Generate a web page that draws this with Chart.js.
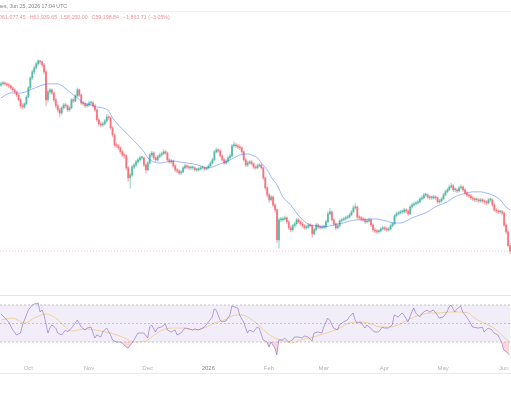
<!DOCTYPE html>
<html>
<head>
<meta charset="utf-8">
<script src="https://cdn.jsdelivr.net/npm/chart.js@4.4.1/dist/chart.umd.min.js"></script>
<style>
  html, body { margin: 0; padding: 0; background: #fff; }
  body { width: 511px; height: 400px; position: relative; overflow: hidden; font-family: "Liberation Sans", Arial, sans-serif; }
  canvas { position: absolute; left: 0; }
  #price { top: 0; }
  #rsi { top: 296px; }
  .rule { position: absolute; left: 0; width: 511px; height: 1px; }
  #hdr { position: absolute; left: -2px; top: 3px; font-size: 5.3px; line-height: 6px; color: #808080; white-space: nowrap; }
  #ohlc { position: absolute; left: -2px; top: 14px; font-size: 5.3px; line-height: 6px; color: #f29297; white-space: nowrap; }
  #ohlc span { margin-right: 4px; }
</style>
</head>
<body>
<canvas id="price" width="511" height="295"></canvas>
<canvas id="rsi" width="511" height="78"></canvas>
<div class="rule" style="top:11px;background:#f0f0f0"></div>
<div class="rule" style="top:295px;background:#e6e6e6"></div>
<div class="rule" style="top:373px;background:#e9e9e9"></div>
<div id="hdr">ues, Jun 25, 2026 17:04 UTC</div>
<div id="ohlc"><span>O61,077.45</span><span>H61,939.65</span><span>L58,150.00</span><span>C59,198.84</span><span>−1,862.71 (−3.05%)</span></div>
<script>
// daily candles, 17 Sep 2025 .. 4 Jun 2026, prices in thousands USD
// open of each day = previous close (24/7 market), first one given here
const firstOpen = 117.2;
const closes = [
  117.7, 118.0, 117.7, 117.3, 117.0, 116.3, 115.6, 114.9, 113.8, 112.1,
  110.0, 109.6, 110.7, 113.1, 116.3, 119.8, 121.9, 123.3, 124.7, 125.7,
  125.4, 124.3, 121.9, 112.1, 114.9, 115.6, 114.5, 112.1, 110.0, 108.6,
  107.5, 109.3, 110.3, 110.0, 108.6, 109.3, 112.1, 111.7, 113.5, 115.6,
  113.8, 111.0, 110.7, 110.0, 110.3, 111.0, 111.0, 110.0, 108.6, 105.1,
  103.7, 103.3, 103.7, 104.7, 106.1, 105.8, 102.3, 99.8, 96.3, 96.0,
  95.3, 93.9, 92.8, 92.5, 88.3, 84.8, 85.8, 88.6, 89.3, 90.4,
  91.1, 91.8, 91.8, 89.3, 87.6, 90.0, 92.8, 93.5, 91.8, 91.1,
  92.1, 92.8, 93.2, 93.9, 93.5, 91.1, 90.4, 90.7, 89.0, 87.6,
  87.2, 86.5, 86.9, 88.3, 89.0, 88.6, 88.3, 88.3, 88.3, 87.6,
  87.6, 87.9, 88.3, 88.3, 87.9, 88.3, 89.0, 90.0, 91.1, 93.9,
  94.6, 94.2, 92.5, 91.1, 90.0, 90.7, 91.8, 92.5, 96.0, 96.3,
  96.0, 95.6, 95.3, 93.9, 91.1, 89.3, 90.0, 90.4, 89.7, 88.6,
  88.3, 89.0, 89.3, 88.3, 84.8, 81.3, 78.8, 77.1, 78.1, 75.3,
  73.6, 63.1, 70.1, 70.1, 70.4, 70.8, 69.4, 67.3, 66.6, 68.0,
  68.7, 70.1, 69.4, 68.7, 68.0, 67.3, 67.6, 68.3, 68.0, 65.2,
  66.6, 68.3, 67.6, 67.3, 67.6, 67.6, 69.4, 72.2, 72.9, 70.1,
  68.7, 67.3, 68.0, 69.7, 70.1, 70.4, 70.8, 71.1, 71.8, 72.9,
  74.3, 74.6, 71.1, 70.8, 70.4, 70.1, 69.4, 69.7, 70.1, 68.3,
  66.6, 66.2, 65.9, 66.2, 66.9, 67.3, 66.9, 66.6, 66.9, 68.0,
  68.7, 71.5, 72.2, 72.5, 72.9, 72.9, 73.6, 73.2, 72.2, 74.6,
  75.3, 75.7, 76.0, 76.4, 77.4, 77.8, 78.8, 78.8, 78.1, 77.8,
  77.8, 78.1, 77.8, 76.4, 76.7, 77.4, 78.8, 79.9, 80.6, 81.6,
  82.0, 80.6, 80.6, 80.2, 81.3, 81.6, 80.6, 79.5, 78.8, 78.5,
  77.8, 77.4, 77.1, 77.1, 76.7, 77.1, 76.7, 76.4, 76.0, 77.1,
  77.1, 75.3, 73.6, 73.2, 72.9, 72.9, 72.5, 68.3, 65.9, 61.1,
  59.2
];
const highs = [
  118.3, 118.6, 118.4, 118.1, 117.8, 117.4, 116.7, 116.0, 115.3, 114.2,
  112.6, 110.8, 111.2, 113.6, 116.8, 120.3, 122.6, 123.9, 125.3, 126.2,
  126.0, 125.8, 124.8, 122.5, 115.4, 116.2, 116.0, 114.9, 112.6, 110.5,
  109.2, 109.8, 110.9, 110.9, 110.4, 109.9, 112.6, 112.8, 114.0, 116.3,
  116.0, 114.2, 111.6, 111.3, 110.9, 111.6, 111.7, 111.5, 110.5, 109.0,
  105.6, 104.4, 104.3, 105.2, 107.0, 106.6, 106.2, 102.8, 100.3, 97.1,
  96.6, 95.8, 94.4, 93.4, 92.9, 88.8, 86.5, 89.2, 89.9, 91.0,
  91.7, 92.4, 92.5, 92.2, 89.8, 90.6, 93.3, 94.1, 94.0, 92.3,
  92.7, 93.4, 93.9, 94.7, 94.5, 93.9, 91.6, 91.3, 91.1, 89.4,
  88.1, 87.7, 87.5, 88.8, 89.6, 89.4, 89.1, 88.9, 88.9, 88.7,
  88.2, 88.5, 88.8, 88.9, 88.7, 88.8, 89.5, 90.6, 91.7, 94.4,
  95.2, 95.0, 94.6, 92.9, 91.6, 91.2, 92.3, 93.0, 96.5, 97.4,
  97.0, 96.5, 96.1, 95.7, 94.3, 91.6, 90.6, 91.0, 90.9, 90.1,
  89.1, 89.6, 89.9, 89.7, 88.7, 85.2, 81.7, 79.3, 78.7, 78.5,
  75.8, 74.0, 70.8, 71.0, 71.2, 71.5, 71.2, 69.9, 68.0, 68.6,
  69.3, 70.7, 70.6, 69.9, 69.2, 68.5, 68.2, 68.9, 68.8, 68.4,
  67.1, 68.9, 68.8, 68.1, 68.2, 68.3, 70.0, 73.0, 74.1, 73.3,
  70.5, 69.1, 68.6, 70.2, 70.7, 71.0, 71.4, 71.7, 72.4, 73.5,
  75.1, 75.8, 75.0, 71.6, 71.3, 71.0, 70.6, 70.3, 70.7, 70.5,
  68.7, 67.1, 66.8, 66.8, 67.5, 67.9, 67.8, 67.4, 67.5, 68.6,
  69.3, 72.1, 72.9, 73.1, 73.5, 73.6, 74.2, 74.0, 73.7, 75.2,
  75.9, 76.3, 76.6, 77.0, 78.0, 78.5, 79.4, 79.5, 79.2, 78.6,
  78.5, 78.7, 78.6, 78.2, 77.3, 78.0, 79.4, 80.5, 81.2, 82.3,
  82.9, 82.5, 81.3, 81.0, 81.9, 82.4, 82.0, 81.0, 80.0, 79.3,
  79.0, 78.3, 77.9, 77.8, 77.6, 77.7, 77.6, 77.2, 76.9, 77.7,
  77.8, 77.5, 75.8, 74.1, 73.7, 73.5, 73.4, 72.9, 68.8, 66.4,
  61.9
];
const lows = [
  116.8, 117.3, 117.2, 116.9, 116.4, 115.8, 115.0, 114.3, 113.2, 111.6,
  109.2, 108.9, 109.1, 110.3, 112.8, 115.9, 119.2, 121.3, 122.8, 124.1,
  124.6, 123.6, 121.2, 110.0, 111.3, 114.2, 113.9, 111.5, 109.3, 107.8,
  106.2, 107.0, 108.8, 109.4, 108.0, 108.1, 108.9, 111.1, 111.3, 113.1,
  113.3, 110.4, 110.1, 109.4, 109.5, 109.8, 110.4, 109.4, 108.0, 104.5,
  102.9, 102.6, 102.8, 103.2, 104.3, 105.2, 101.7, 99.1, 95.6, 95.3,
  94.6, 93.2, 92.1, 91.6, 87.6, 83.6, 81.2, 85.3, 88.0, 88.8,
  89.9, 90.6, 91.1, 88.7, 86.4, 87.2, 89.6, 92.3, 91.2, 90.5,
  90.6, 91.7, 92.3, 92.8, 92.9, 90.5, 89.8, 89.9, 88.4, 87.0,
  86.6, 85.9, 86.0, 86.5, 87.8, 88.0, 87.7, 87.6, 87.8, 87.1,
  87.0, 87.2, 87.5, 87.8, 87.4, 87.6, 88.0, 88.7, 89.6, 90.8,
  93.4, 93.6, 92.0, 90.6, 89.5, 89.6, 90.2, 91.3, 92.1, 95.6,
  95.4, 95.0, 94.7, 93.3, 90.6, 88.7, 88.8, 89.7, 89.2, 88.0,
  87.7, 87.9, 88.7, 87.8, 84.2, 80.6, 78.0, 76.3, 76.6, 74.6,
  72.8, 62.0, 60.2, 69.4, 69.6, 70.0, 68.8, 66.7, 65.9, 66.1,
  67.5, 68.3, 68.9, 68.1, 67.4, 66.7, 66.8, 67.1, 67.5, 64.0,
  64.8, 66.2, 67.1, 66.8, 66.9, 67.0, 67.2, 69.0, 71.7, 69.6,
  68.1, 66.7, 66.9, 67.6, 69.3, 69.7, 70.0, 70.4, 70.7, 71.4,
  72.5, 73.8, 70.5, 70.2, 69.8, 69.5, 68.8, 68.9, 69.2, 67.7,
  66.0, 65.6, 65.3, 65.4, 65.8, 66.5, 66.3, 66.0, 66.2, 66.5,
  67.6, 68.3, 71.0, 71.8, 72.1, 72.3, 72.4, 72.6, 71.6, 71.9,
  74.2, 74.9, 75.2, 75.6, 76.0, 77.0, 77.4, 78.1, 77.5, 77.2,
  77.2, 77.4, 77.1, 75.8, 75.9, 76.2, 77.0, 78.4, 79.5, 80.2,
  81.2, 80.0, 79.9, 79.6, 79.8, 80.9, 80.0, 78.9, 78.2, 77.9,
  77.2, 76.8, 76.5, 76.4, 76.1, 76.2, 76.0, 75.6, 75.4, 75.6,
  76.5, 74.7, 73.0, 72.6, 72.2, 72.3, 71.8, 67.6, 65.2, 60.6,
  58.2
];

// moving average of price, read at these day indexes
const maDays = [0, 5, 10, 15, 20, 24, 29, 32, 35, 39, 42, 46, 49, 52, 55, 57, 61, 64, 66, 70,
  73, 75, 78, 81, 85, 88, 91, 95, 98, 102, 105, 108, 112, 115, 119, 122, 126, 129, 131, 133,
  136, 138, 141, 144, 148, 151, 154, 158, 161, 165, 168, 172, 175, 178, 182, 185, 188, 192, 194, 197,
  200, 204, 207, 210, 214, 218, 221, 224, 228, 231, 234, 238, 241, 245, 248, 251, 255, 258, 260];
const maValues = [112.8, 114.5, 114.5, 115.6, 117.0, 117.7, 117.7, 116.6, 114.9, 112.8, 111.0, 110.3, 109.6, 109.3, 108.2, 105.8, 102.6, 100.5, 99.1, 96.3,
  93.9, 91.8, 90.4, 90.0, 90.4, 90.7, 90.4, 90.0, 89.7, 89.0, 88.3, 88.6, 89.7, 90.4, 91.8, 92.8, 93.2, 92.5, 91.8, 90.0,
  87.6, 85.1, 82.3, 78.1, 75.3, 72.5, 70.1, 68.3, 68.0, 67.6, 68.0, 68.7, 69.0, 69.7, 70.1, 70.1, 70.4, 70.4, 70.1, 69.7,
  69.0, 69.0, 69.7, 70.8, 71.8, 72.9, 74.3, 75.3, 76.4, 77.8, 78.8, 79.5, 79.9, 79.9, 79.5, 78.8, 77.1, 74.6, 73.6];

// RSI and its moving average
const rsiDays = [0, 2, 4, 6, 8, 10, 11, 13, 14, 16, 17, 19, 20, 21, 22, 24, 25, 26, 28, 29,
  31, 33, 34, 36, 38, 39, 41, 43, 44, 46, 48, 49, 51, 52, 54, 56, 57, 59, 61, 62,
  64, 65, 67, 68, 70, 71, 73, 75, 76, 77, 79, 80, 82, 84, 85, 87, 89, 90, 92, 94,
  96, 98, 99, 101, 103, 104, 106, 108, 109, 110, 112, 113, 115, 117, 118, 121, 122, 124, 126, 127,
  129, 131, 132, 134, 136, 137, 138, 140, 141, 142, 144, 145, 147, 149, 150, 152, 154, 155, 157, 159,
  160, 162, 164, 165, 167, 168, 170, 172, 173, 175, 177, 178, 180, 181, 182, 184, 186, 187, 190, 191,
  193, 195, 196, 198, 200, 201, 203, 205, 206, 208, 210, 211, 212, 214, 216, 218, 219, 221, 223, 224,
  226, 228, 229, 230, 232, 233, 235, 236, 238, 240, 241, 244, 246, 247, 249, 251, 252, 254, 256, 257,
  259, 260];
const rsiValues = [60.3, 55.9, 51.6, 43.0, 37.6, 39.7, 48.4, 59.2, 64.6, 70.0, 71.1, 72.2, 62.4, 64.6, 59.2, 39.7, 45.1, 48.4, 45.1, 39.7,
  37.6, 43.0, 40.8, 45.1, 50.5, 53.8, 46.2, 43.0, 45.1, 46.2, 34.3, 37.6, 35.4, 40.8, 45.1, 37.6, 32.2, 30.0, 30.0, 28.9,
  24.6, 23.5, 28.9, 32.2, 39.7, 39.7, 39.7, 34.3, 46.2, 48.4, 40.8, 45.1, 46.2, 49.5, 43.0, 40.8, 43.0, 37.6, 39.7, 45.1,
  44.1, 43.0, 44.1, 43.0, 45.1, 46.2, 51.6, 57.0, 65.7, 64.6, 53.8, 51.6, 52.7, 59.2, 68.9, 66.8, 59.2, 51.6, 39.7, 43.0,
  40.8, 46.2, 45.1, 32.2, 30.0, 24.6, 30.0, 23.5, 16.0, 32.2, 32.2, 34.3, 30.0, 32.2, 35.4, 35.4, 34.3, 36.5, 35.4, 31.1,
  39.7, 40.8, 39.7, 46.2, 55.9, 53.8, 45.1, 43.0, 48.4, 51.6, 53.8, 57.0, 61.4, 53.8, 50.5, 51.6, 45.1, 48.4, 43.0, 40.8,
  40.8, 46.2, 45.1, 45.1, 48.4, 59.2, 57.0, 61.4, 59.2, 51.6, 62.4, 66.8, 61.4, 57.0, 62.4, 64.6, 62.4, 64.6, 59.2, 55.9,
  57.0, 62.4, 67.8, 70.0, 62.4, 65.7, 68.9, 62.4, 57.0, 50.5, 46.2, 45.1, 46.2, 40.8, 45.1, 43.0, 39.7, 37.6, 28.9, 21.4,
  18.1, 16.0];
const rsiMaDays = [0, 6, 12, 17, 23, 28, 33, 36, 43, 48, 53, 58, 63, 68, 74, 79, 84, 89, 94, 99,
  104, 109, 114, 120, 123, 127, 131, 136, 140, 145, 149, 153, 158, 163, 168, 173, 178, 183, 188, 194,
  199, 204, 209, 214, 219, 224, 229, 234, 239, 242, 247, 252, 257, 260];
const rsiMaValues = [53.8, 55.9, 50.5, 55.9, 60.3, 55.9, 46.2, 41.9, 44.1, 43.0, 40.8, 38.6, 34.3, 30.0, 31.1, 38.6, 44.1, 45.1, 45.1, 43.0,
  45.1, 50.5, 53.8, 59.2, 59.2, 55.9, 49.5, 39.7, 34.3, 31.1, 28.9, 32.2, 34.3, 37.6, 40.8, 45.1, 50.5, 51.6, 50.5, 46.2,
  46.2, 49.5, 54.9, 59.2, 61.4, 61.4, 62.4, 62.4, 61.4, 55.9, 50.5, 45.1, 35.4, 30.0];
const rsiLevels = [70, 50, 30];

// month ticks (day index of the 1st)
const tickDays = [14, 45, 75, 106, 137, 165, 196, 226, 257];
const tickLabels = ['Oct', 'Nov', 'Dec', '2026', 'Feb', 'Mar', 'Apr', 'May', 'Jun'];

const opens = closes.map((c, i) => (i === 0 ? firstOpen : closes[i - 1]));
const lastClose = closes[closes.length - 1];
const xMin = -0.5;
const xMax = closes.length - 0.5;

const UP = 'rgba(8,153,129,0.52)';
const DOWN = 'rgba(242,54,69,0.55)';
const UP_WICK = 'rgba(8,153,129,0.33)';
const DOWN_WICK = 'rgba(242,54,69,0.33)';
const bodyColors = closes.map((c, i) => (c >= opens[i] ? UP : DOWN));
const wickColors = closes.map((c, i) => (c >= opens[i] ? UP_WICK : DOWN_WICK));

const toPoints = (days, vals) => days.map((d, i) => ({ x: d, y: vals[i] }));
const flat = (v) => [{ x: xMin, y: v }, { x: xMax, y: v }];

new Chart(document.getElementById('price'), {
  type: 'bar',
  data: {
    datasets: [
      {
        type: 'line', data: toPoints(maDays, maValues),
        borderColor: 'rgba(41,98,255,0.45)', borderWidth: 1, pointRadius: 0,
        cubicInterpolationMode: 'monotone', order: 0
      },
      {
        data: closes.map((c, i) => ({ x: i, y: [opens[i], c] })),
        backgroundColor: bodyColors, barThickness: 1.3, minBarLength: 1, grouped: false, order: 1
      },
      {
        data: closes.map((c, i) => ({ x: i, y: [lows[i], highs[i]] })),
        backgroundColor: wickColors, barThickness: 0.8, grouped: false, order: 2
      },
      {
        type: 'line', data: flat(lastClose),
        borderColor: 'rgba(242,54,69,0.3)', borderDash: [1, 2], borderWidth: 1, pointRadius: 0, order: 3
      }
    ]
  },
  options: {
    responsive: false,
    animation: false,
    devicePixelRatio: 1,
    layout: { padding: 0 },
    plugins: { legend: { display: false }, tooltip: { enabled: false } },
    scales: {
      x: { type: 'linear', min: xMin, max: xMax, offset: false, display: false },
      y: { min: 43.8, max: 147.05, display: false }
    }
  }
});

const levelSets = rsiLevels.map((v, i) => ({
  data: flat(v),
  borderColor: 'rgba(120,123,134,0.4)', borderDash: [2, 2], borderWidth: 1, pointRadius: 0,
  fill: i === 0 ? rsiLevels.length - 1 : false,
  backgroundColor: 'rgba(126,87,194,0.1)'
}));

new Chart(document.getElementById('rsi'), {
  type: 'line',
  data: {
    datasets: [
      ...levelSets,
      {
        data: toPoints(rsiDays, rsiValues),
        borderColor: 'rgba(126,87,194,0.55)', borderWidth: 1, pointRadius: 0
      },
      {
        data: toPoints(rsiMaDays, rsiMaValues),
        borderColor: 'rgba(247,185,36,0.45)', borderWidth: 1, pointRadius: 0,
        cubicInterpolationMode: 'monotone'
      },
      {
        data: toPoints(rsiDays, rsiValues), borderWidth: 0, pointRadius: 0,
        fill: { target: { value: rsiLevels[0] }, above: 'rgba(8,153,129,0.12)', below: 'rgba(0,0,0,0)' }
      },
      {
        data: toPoints(rsiDays, rsiValues), borderWidth: 0, pointRadius: 0,
        fill: { target: { value: rsiLevels[2] }, above: 'rgba(0,0,0,0)', below: 'rgba(242,54,69,0.2)' }
      }
    ]
  },
  options: {
    responsive: false,
    animation: false,
    devicePixelRatio: 1,
    layout: { padding: 0 },
    plugins: { legend: { display: false }, tooltip: { enabled: false } },
    scales: {
      x: {
        type: 'linear', min: xMin, max: xMax, offset: false,
        grid: { display: false, drawTicks: false },
        border: { display: false },
        afterBuildTicks: (scale) => { scale.ticks = tickDays.map((v) => ({ value: v })); },
        ticks: {
          autoSkip: false, maxRotation: 0, padding: 2.4,
          font: { size: 6, family: '"Liberation Sans", Arial, sans-serif' },
          color: (ctx) => (ctx.tick && ctx.tick.label === '2026' ? '#8c8c8c' : '#b4b4b4'),
          callback: (v) => tickLabels[tickDays.indexOf(v)] || ''
        }
      },
      y: { min: 8.38, max: 79.73, display: false }
    }
  }
});
</script>
</body>
</html>
